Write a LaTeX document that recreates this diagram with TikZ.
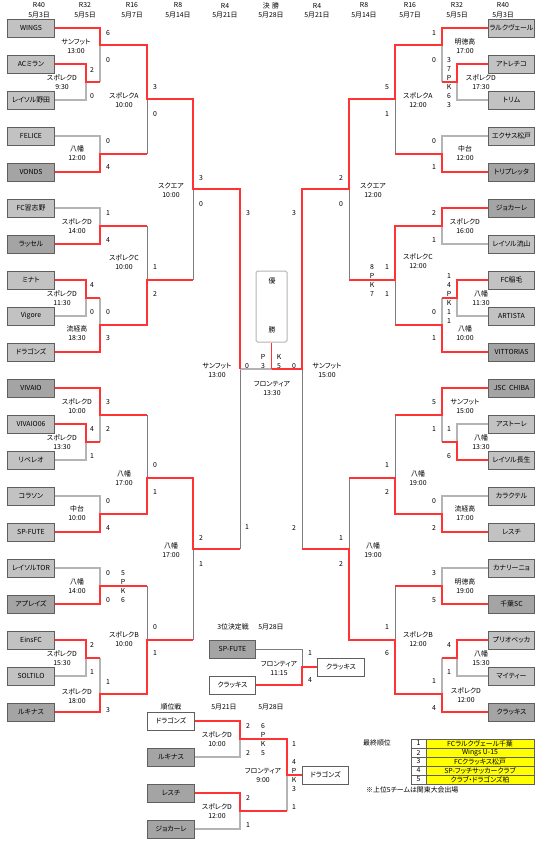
\documentclass[tikz,border=0pt]{standalone}
\usepackage{fontspec}
\setmainfont{Noto Sans CJK JP}[RawFeature={+palt}]
\definecolor{wred}{RGB}{255,51,51}
\definecolor{lg}{RGB}{180,180,180}
\definecolor{dg}{RGB}{125,125,125}
\definecolor{bx}{RGB}{95,95,95}
\definecolor{tl}{RGB}{194,194,194}
\definecolor{td}{RGB}{164,164,164}
\definecolor{yl}{RGB}{255,255,0}
\newcounter{tn}
\newcommand\scoreat[3]{\stepcounter{tn}\node (s\arabic{tn}) at (#1,#2) {#3};}
\newcommand\venue[4]{\stepcounter{tn}\node[align=center] (v\arabic{tn}) at (#1,{#2+4.5}) {#3\\#4};}
\newcommand\headat[3]{\stepcounter{tn}\node (h\arabic{tn}) at (#1,5.5) {#2};\node (d\arabic{tn}) at (#1,15) {#3};}
\tikzset{
 every node/.style={font=\fontsize{6.9}{9}\selectfont, inner sep=0pt},
 team/.style={draw=bx, line width=0.9pt, fill=tl, minimum width=46.5pt, minimum height=18pt},
 teamd/.style={team, fill=td},
 teamw/.style={team, fill=white},
 lo/.style={draw=lg, line width=1.2pt},
 li/.style={draw=dg, line width=0.7pt},
 win/.style={draw=wred, line width=1.5pt},
}
\begin{document}
\begin{tikzpicture}[x=1pt,y=-1pt]
\useasboundingbox[fill=white] (0,0) rectangle (542,843);

% ---------- header
\headat{39}{R40}{5月3日}
\headat{85}{R32}{5月5日}
\headat{132}{R16}{5月7日}
\headat{178}{R8}{5月14日}
\headat{225}{R4}{5月21日}
\headat{271}{決\,\,勝}{5月28日}
\headat{317}{R4}{5月21日}
\headat{364}{R8}{5月14日}
\headat{410}{R16}{5月7日}
\headat{457}{R32}{5月5日}
\headat{503}{R40}{5月3日}

% ---------- team boxes left
\node[team]  (L1)  at (31,28)  {WINGS};
\node[team]  (L2)  at (31,64)  {ACミラン};
\node[team]  (L3)  at (31,100) {レイソル野田};
\node[team]  (L4)  at (31,136) {FELICE};
\node[teamd] (L5)  at (31,172) {VONDS};
\node[team]  (L6)  at (31,208) {FC習志野};
\node[teamd] (L7)  at (31,244) {ラッセル};
\node[team]  (L8)  at (31,280) {ミナト};
\node[team]  (L9)  at (31,316) {Vigore};
\node[team]  (L10) at (31,352) {ドラゴンズ};
\node[teamd] (L11) at (31,388) {VIVAIO};
\node[team]  (L12) at (31,424) {VIVAIO06};
\node[team]  (L13) at (31,460) {リベレオ};
\node[team]  (L14) at (31,496) {コラソン};
\node[team]  (L15) at (31,532) {SP-FUTE};
\node[team]  (L16) at (31,568) {レイソルTOR};
\node[teamd] (L17) at (31,604) {アプレイズ};
\node[team]  (L18) at (31,640) {EinsFC};
\node[team]  (L19) at (31,676) {SOLTILO};
\node[teamd] (L20) at (31,712) {ルキナス};

% ---------- team boxes right
\node[team]  (R1)  at (511.5,28)  {ラルクヴェール};
\node[team]  (R2)  at (511.5,64)  {アトレチコ};
\node[team]  (R3)  at (511.5,100) {トリム};
\node[team]  (R4)  at (511.5,136) {エクサス松戸};
\node[teamd] (R5)  at (511.5,172) {トリプレッタ};
\node[teamd] (R6)  at (511.5,208) {ジョカーレ};
\node[team]  (R7)  at (511.5,244) {レイソル流山};
\node[team]  (R8)  at (511.5,280) {FC稲毛};
\node[team]  (R9)  at (511.5,316) {ARTISTA};
\node[teamd] (R10) at (511.5,352) {VITTORIAS};
\node[teamd] (R11) at (511.5,388) {JSC\ \ CHIBA};
\node[team]  (R12) at (511.5,424) {アストーレ};
\node[team]  (R13) at (511.5,460) {レイソル長生};
\node[team]  (R14) at (511.5,496) {カラクテル};
\node[team]  (R15) at (511.5,532) {レスチ};
\node[team]  (R16) at (511.5,568) {カナリーニョ};
\node[teamd] (R17) at (511.5,604) {千葉SC};
\node[team]  (R18) at (511.5,640) {プリオベッカ};
\node[team]  (R19) at (511.5,676) {マイティー};
\node[teamd] (R20) at (511.5,712) {クラッキス};

% ---------- gray lines left
\draw[lo] (L3.east) -- (86,100) -- (86,82);
\draw[lo] (100,45) -- (100,82);
\draw[lo] (L4.east) -- (100,136) -- (100,154);
\draw[lo] (L6.east) -- (100,208) -- (100,226);
\draw[lo] (L9.east) -- (86,316) -- (86,298);
\draw[lo] (100,298) -- (100,325);
\draw[lo] (L13.east) -- (86,460) -- (86,442);
\draw[lo] (100,415) -- (100,442);
\draw[lo] (L14.east) -- (100,496) -- (100,514);
\draw[lo] (L16.east) -- (100,568) -- (100,586);
\draw[lo] (L19.east) -- (86,676) -- (86,658);
\draw[lo] (100,658) -- (100,694);
\draw[li] (147,99) -- (147,154);
\draw[li] (147,226) -- (147,280);
\draw[li] (147,415) -- (147,478);
\draw[li] (147,586) -- (147,640);
\draw[li] (193,189) -- (193,280);
\draw[li] (193,549) -- (193,640);
\draw[li] (240,369) -- (240,549);
\draw[lo] (240,369) -- (272,369);

% ---------- gray lines right
\draw[lo] (R3.west) -- (457,100) -- (457,82);
\draw[lo] (442,45) -- (442,82);
\draw[lo] (R4.west) -- (442,136) -- (442,154);
\draw[lo] (R7.west) -- (442,244) -- (442,226);
\draw[lo] (R9.west) -- (457,316) -- (457,298);
\draw[lo] (442,298) -- (442,325);
\draw[lo] (R12.west) -- (457,424) -- (457,442);
\draw[lo] (442,415) -- (442,442);
\draw[lo] (R14.west) -- (442,496) -- (442,514);
\draw[lo] (R16.west) -- (442,568) -- (442,586);
\draw[lo] (R19.west) -- (457,676) -- (457,658);
\draw[lo] (442,658) -- (442,694);
\draw[li] (395,99) -- (395,154);
\draw[li] (395,280) -- (395,325);
\draw[li] (395,415) -- (395,478);
\draw[li] (395,586) -- (395,640);
\draw[li] (349,189) -- (349,280);
\draw[li] (349,478) -- (349,549);
\draw[li] (302,369) -- (302,549);

% ---------- red lines left
\draw[win] (L1.east) -- (100,28) -- (100,45) -- (147,45) -- (147,99) -- (193,99) -- (193,189) -- (240,189) -- (240,369);
\draw[win] (L2.east) -- (86,64) -- (86,82) -- (100,82);
\draw[win] (L5.east) -- (100,172) -- (100,154) -- (147,154);
\draw[win] (L7.east) -- (100,244) -- (100,226) -- (147,226);
\draw[win] (L8.east) -- (86,280) -- (86,298) -- (100,298);
\draw[win] (L10.east) -- (100,352) -- (100,325) -- (147,325) -- (147,280) -- (193,280);
\draw[win] (L11.east) -- (100,388) -- (100,415) -- (147,415);
\draw[win] (L12.east) -- (86,424) -- (86,442) -- (100,442);
\draw[win] (L15.east) -- (100,532) -- (100,514) -- (147,514) -- (147,478) -- (193,478) -- (193,549) -- (240,549);
\draw[win] (L17.east) -- (100,604) -- (100,586) -- (147,586);
\draw[win] (L18.east) -- (86,640) -- (86,658) -- (100,658);
\draw[win] (L20.east) -- (100,712) -- (100,694) -- (147,694) -- (147,640) -- (193,640);

% ---------- red lines right
\draw[win] (R1.west) -- (442,28) -- (442,45) -- (395,45) -- (395,99) -- (349,99) -- (349,189) -- (302,189) -- (302,369) -- (271.5,369);
\draw[win] (R2.west) -- (457,64) -- (457,82) -- (442,82);
\draw[win] (R5.west) -- (442,172) -- (442,154) -- (395,154);
\draw[win] (R6.west) -- (442,208) -- (442,226) -- (395,226) -- (395,280) -- (349,280);
\draw[win] (R8.west) -- (457,280) -- (457,298) -- (442,298);
\draw[win] (R10.west) -- (442,352) -- (442,325) -- (395,325);
\draw[win] (R11.west) -- (442,388) -- (442,415) -- (395,415);
\draw[win] (R13.west) -- (457,460) -- (457,442) -- (442,442);
\draw[win] (R15.west) -- (442,532) -- (442,514) -- (395,514) -- (395,478) -- (349,478);
\draw[win] (R17.west) -- (442,604) -- (442,586) -- (395,586);
\draw[win] (R18.west) -- (457,640) -- (457,658) -- (442,658);
\draw[win] (R20.west) -- (442,712) -- (442,694) -- (395,694) -- (395,640) -- (349,640) -- (349,549) -- (302,549);

% ---------- champion box
\node[draw=lg, line width=1pt, rounded corners=1.5pt, fill=white, minimum width=31pt, minimum height=71pt] (champ) at (271.5,306.5) {};
\node (yu) at (272,281) {優};
\node (sho) at (272,330) {勝};
\draw[win] (champ.south) -- (271.5,369);

% ---------- scores left
\scoreat{108}{33}{6}\scoreat{108}{60}{0}\scoreat{92}{70}{2}\scoreat{92}{96}{0}
\scoreat{155}{87}{3}\scoreat{155}{114}{0}\scoreat{108}{141}{0}\scoreat{108}{167}{4}
\scoreat{108}{213}{1}\scoreat{108}{240}{4}\scoreat{92}{285}{4}\scoreat{92}{312}{0}
\scoreat{108}{312}{0}\scoreat{108}{338}{3}\scoreat{155}{267}{1}\scoreat{155}{294}{2}
\scoreat{201}{178}{3}\scoreat{201}{204}{0}\scoreat{248}{213}{3}
\scoreat{108}{402}{3}\scoreat{108}{429}{2}\scoreat{92}{429}{4}\scoreat{92}{456}{1}
\scoreat{155}{465}{0}\scoreat{155}{492}{1}\scoreat{108}{501}{0}\scoreat{108}{528}{4}
\scoreat{201}{538}{2}\scoreat{201}{564}{1}\scoreat{247}{527}{1}
\scoreat{108}{573}{0}\scoreat{108}{600}{0}
\scoreat{123}{573}{5}\scoreat{123}{582}{P}\scoreat{123}{591}{K}\scoreat{123}{600}{6}
\scoreat{92}{645}{2}\scoreat{92}{672}{1}\scoreat{108}{682}{1}\scoreat{108}{710}{3}
\scoreat{155}{627}{0}\scoreat{155}{653}{1}

% ---------- scores right
\scoreat{434}{33}{1}\scoreat{434}{60}{0}
\scoreat{449}{60}{3}\scoreat{449}{69}{7}\scoreat{449}{78}{P}\scoreat{449}{87}{K}\scoreat{449}{96}{6}\scoreat{449}{105}{3}
\scoreat{387}{87}{5}\scoreat{387}{114}{1}\scoreat{434}{141}{0}\scoreat{434}{167}{1}
\scoreat{341}{178}{2}\scoreat{341}{204}{0}\scoreat{294}{213}{3}
\scoreat{434}{213}{2}\scoreat{434}{240}{1}\scoreat{387}{267}{1}\scoreat{387}{294}{1}
\scoreat{372}{267}{8}\scoreat{372}{276}{P}\scoreat{372}{285}{K}\scoreat{372}{294}{7}
\scoreat{449}{276}{1}\scoreat{449}{285}{4}\scoreat{449}{294}{P}\scoreat{449}{303}{K}\scoreat{449}{312}{1}\scoreat{449}{321}{1}
\scoreat{434}{312}{0}\scoreat{434}{338}{1}
\scoreat{434}{402}{5}\scoreat{434}{429}{1}\scoreat{449}{429}{1}\scoreat{449}{456}{6}
\scoreat{387}{465}{1}\scoreat{387}{492}{2}\scoreat{434}{501}{0}\scoreat{434}{528}{2}
\scoreat{341}{538}{1}\scoreat{341}{564}{2}\scoreat{294}{528}{2}
\scoreat{434}{573}{3}\scoreat{434}{600}{5}\scoreat{387}{627}{1}\scoreat{387}{653}{6}
\scoreat{449}{645}{4}\scoreat{449}{672}{1}\scoreat{434}{681}{1}\scoreat{434}{708}{4}

% ---------- final scores
\scoreat{247}{366}{0}\scoreat{263}{357}{P}\scoreat{263}{366}{3}
\scoreat{279}{357}{K}\scoreat{279}{366}{5}\scoreat{294}{366}{0}

% ---------- venues left
\venue{76}{42}{サンフット}{13:00}
\venue{62}{78}{スポレクD}{9:30}
\venue{124}{96}{スポレクA}{10:00}
\venue{77}{149}{八幡}{12:00}
\venue{171}{186}{スクエア}{10:00}
\venue{77}{222}{スポレクD}{14:00}
\venue{124}{258}{スポレクC}{10:00}
\venue{62}{294}{スポレクD}{11:30}
\venue{77}{329}{流経高}{18:30}
\venue{77}{402}{スポレクD}{10:00}
\venue{62}{438}{スポレクD}{13:30}
\venue{124}{474}{八幡}{17:00}
\venue{77}{509}{中台}{10:00}
\venue{171}{546}{八幡}{17:00}
\venue{77}{582}{八幡}{14:00}
\venue{124}{635}{スポレクB}{10:00}
\venue{62}{654}{スポレクD}{15:30}
\venue{77}{692}{スポレクD}{18:00}
\venue{217}{366}{サンフット}{13:00}
\venue{272}{384}{フロンティア}{13:30}
\venue{327}{366}{サンフット}{15:00}

% ---------- venues right
\venue{465}{42}{明徳高}{17:00}
\venue{481}{78}{スポレクD}{17:30}
\venue{418}{96}{スポレクA}{12:00}
\venue{465}{149}{中台}{12:00}
\venue{373}{186}{スクエア}{12:00}
\venue{465}{222}{スポレクD}{16:00}
\venue{418}{257}{スポレクC}{12:00}
\venue{481}{294}{八幡}{11:30}
\venue{465}{329}{八幡}{10:00}
\venue{465}{402}{サンフット}{15:00}
\venue{481}{438}{八幡}{13:30}
\venue{418}{474}{八幡}{19:00}
\venue{465}{509}{流経高}{17:00}
\venue{373}{546}{八幡}{19:00}
\venue{465}{582}{明徳高}{19:00}
\venue{418}{635}{スポレクB}{12:00}
\venue{481}{654}{八幡}{15:30}
\venue{466}{691}{スポレクD}{12:00}

% ---------- third place match
\node (t3a) at (233,627) {3位決定戦};
\node (t3b) at (271,627) {5月28日};
\node[teamd] (SP3) at (232.5,649) {SP-FUTE};
\node[teamw] (K3) at (232.5,685) {クラッキス};
\node[teamw] (K3W) at (341,667) {クラッキス};
\draw[li] (SP3.east) -- (302,649) -- (302,667);
\draw[win] (K3.east) -- (302,685) -- (302,667) -- (K3W.west);
\scoreat{310}{653}{1}\scoreat{310}{680}{4}
\venue{279}{664}{フロンティア}{11:15}

% ---------- placement matches
\node (j1) at (171,707) {順位戦};
\node (j2) at (224,707) {5月21日};
\node (j3) at (271,707) {5月28日};
\node[teamw] (PD) at (171,721) {ドラゴンズ};
\node[teamd] (PL) at (171,757) {ルキナス};
\node[teamd] (PR) at (171,793) {レスチ};
\node[teamd] (PJ) at (171,829) {ジョカーレ};
\node[teamw] (PW) at (325.5,775) {ドラゴンズ};
\draw[lo] (PL.east) -- (240,757) -- (240,739);
\draw[lo] (PJ.east) -- (240,829) -- (240,811);
\draw[lo] (287,775) -- (287,811);
\draw[win] (PD.east) -- (240,721) -- (240,739) -- (287,739) -- (287,775) -- (PW.west);
\draw[win] (PR.east) -- (240,793) -- (240,811) -- (287,811);
\scoreat{248}{726}{2}\scoreat{248}{753}{2}
\scoreat{263}{726}{6}\scoreat{263}{735}{P}\scoreat{263}{744}{K}\scoreat{263}{753}{5}
\scoreat{248}{798}{2}\scoreat{248}{825}{1}
\scoreat{294}{744}{1}\scoreat{294}{762}{4}\scoreat{294}{771}{P}\scoreat{294}{780}{K}\scoreat{294}{789}{3}\scoreat{294}{807}{1}
\venue{217}{735}{スポレクD}{10:00}
\venue{217}{807}{スポレクD}{12:00}
\venue{263}{771}{フロンティア}{9:00}

% ---------- final ranking
\node (rk) at (377,743) {最終順位};
\foreach \i/\t in {1/FCラルクヴェール千葉, 2/Wings U-15, 3/FCクラッキス松戸, 4/SP-フッチサッカークラブ, 5/クラブ・ドラゴンズ柏}{
  \node[draw=bx, line width=0.6pt, fill=white, minimum width=15pt, minimum height=9pt] (n\i) at (418.5,{734.5+9*\i}) {\i};
  \node[draw=bx, line width=0.6pt, fill=yl, minimum width=108pt, minimum height=9pt] (m\i) at (480,{734.5+9*\i}) {\t};
}
\node[anchor=west] (note) at (366,790) {※上位5チームは関東大会出場};
\end{tikzpicture}
\end{document}
